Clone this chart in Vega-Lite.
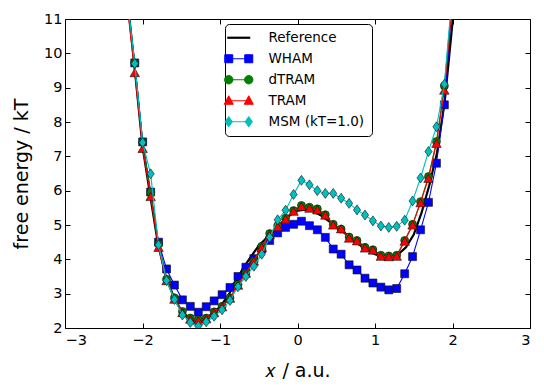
{
"$schema": "https://vega.github.io/schema/vega-lite/v6.json",
"width": 465, "height": 309,
"autosize": "none",
"padding": {"left": 65, "top": 19, "right": 14, "bottom": 62},
"background": "white",
"config": {
 "view": {"stroke": "black", "strokeWidth": 1},
 "axis": {"grid": false, "domain": false, "tickColor": "black", "tickSize": -5, "tickWidth": 1, "labelColor": "black", "labelFont": "DejaVu Sans", "labelFontSize": 14.5, "titleFont": "DejaVu Sans", "titleFontSize": 19, "titleFontWeight": "normal", "titleColor": "black"}
},
"datasets": {
 "ref": [
  {"s":"Reference","x":-2.2,"y":11.7},{"s":"Reference","x":-2.1,"y":9.55},{"s":"Reference","x":-2.0,"y":7.3},{"s":"Reference","x":-1.9,"y":5.85},{"s":"Reference","x":-1.8,"y":4.45},{"s":"Reference","x":-1.7,"y":3.5},{"s":"Reference","x":-1.6,"y":2.92},{"s":"Reference","x":-1.5,"y":2.5},{"s":"Reference","x":-1.4,"y":2.28},{"s":"Reference","x":-1.3,"y":2.2},{"s":"Reference","x":-1.2,"y":2.25},{"s":"Reference","x":-1.1,"y":2.42},{"s":"Reference","x":-1.0,"y":2.62},{"s":"Reference","x":-0.9,"y":2.92},{"s":"Reference","x":-0.8,"y":3.33},{"s":"Reference","x":-0.7,"y":3.75},{"s":"Reference","x":-0.6,"y":4.08},{"s":"Reference","x":-0.5,"y":4.4},{"s":"Reference","x":-0.4,"y":4.62},{"s":"Reference","x":-0.3,"y":4.82},{"s":"Reference","x":-0.2,"y":5.05},{"s":"Reference","x":-0.1,"y":5.28},{"s":"Reference","x":0.0,"y":5.42},{"s":"Reference","x":0.1,"y":5.45},{"s":"Reference","x":0.2,"y":5.4},{"s":"Reference","x":0.3,"y":5.28},{"s":"Reference","x":0.4,"y":5.12},{"s":"Reference","x":0.5,"y":4.95},{"s":"Reference","x":0.6,"y":4.78},{"s":"Reference","x":0.7,"y":4.6},{"s":"Reference","x":0.8,"y":4.42},{"s":"Reference","x":0.9,"y":4.27},{"s":"Reference","x":1.0,"y":4.15},{"s":"Reference","x":1.1,"y":4.08},{"s":"Reference","x":1.2,"y":4.07},{"s":"Reference","x":1.3,"y":4.15},{"s":"Reference","x":1.4,"y":4.35},{"s":"Reference","x":1.5,"y":4.72},{"s":"Reference","x":1.6,"y":5.35},{"s":"Reference","x":1.7,"y":6.15},{"s":"Reference","x":1.8,"y":7.1},{"s":"Reference","x":1.9,"y":8.6},{"s":"Reference","x":2.0,"y":10.9},{"s":"Reference","x":2.1,"y":13.5}
 ],
 "est": [
  {"s":"WHAM","x":-2.202,"y":11.6},{"s":"WHAM","x":-2.1,"y":9.72},{"s":"WHAM","x":-1.998,"y":7.42},{"s":"WHAM","x":-1.895,"y":5.96},{"s":"WHAM","x":-1.793,"y":4.5},{"s":"WHAM","x":-1.69,"y":3.72},{"s":"WHAM","x":-1.588,"y":3.25},{"s":"WHAM","x":-1.485,"y":2.82},{"s":"WHAM","x":-1.383,"y":2.63},{"s":"WHAM","x":-1.28,"y":2.46},{"s":"WHAM","x":-1.178,"y":2.62},{"s":"WHAM","x":-1.076,"y":2.79},{"s":"WHAM","x":-0.973,"y":2.97},{"s":"WHAM","x":-0.871,"y":3.18},{"s":"WHAM","x":-0.768,"y":3.5},{"s":"WHAM","x":-0.666,"y":3.77},{"s":"WHAM","x":-0.563,"y":4.02},{"s":"WHAM","x":-0.461,"y":4.3},{"s":"WHAM","x":-0.359,"y":4.55},{"s":"WHAM","x":-0.256,"y":4.77},{"s":"WHAM","x":-0.154,"y":4.93},{"s":"WHAM","x":-0.051,"y":5.02},{"s":"WHAM","x":0.051,"y":5.11},{"s":"WHAM","x":0.154,"y":4.98},{"s":"WHAM","x":0.256,"y":4.86},{"s":"WHAM","x":0.359,"y":4.64},{"s":"WHAM","x":0.461,"y":4.3},{"s":"WHAM","x":0.563,"y":4.15},{"s":"WHAM","x":0.666,"y":3.84},{"s":"WHAM","x":0.768,"y":3.69},{"s":"WHAM","x":0.871,"y":3.45},{"s":"WHAM","x":0.973,"y":3.31},{"s":"WHAM","x":1.076,"y":3.19},{"s":"WHAM","x":1.178,"y":3.11},{"s":"WHAM","x":1.28,"y":3.15},{"s":"WHAM","x":1.383,"y":3.58},{"s":"WHAM","x":1.485,"y":4.08},{"s":"WHAM","x":1.588,"y":4.86},{"s":"WHAM","x":1.69,"y":5.66},{"s":"WHAM","x":1.793,"y":6.8},{"s":"WHAM","x":1.895,"y":8.5},{"s":"WHAM","x":1.998,"y":11.5},
  {"s":"dTRAM","x":-2.202,"y":11.7},{"s":"dTRAM","x":-2.1,"y":9.72},{"s":"dTRAM","x":-1.998,"y":7.41},{"s":"dTRAM","x":-1.895,"y":5.95},{"s":"dTRAM","x":-1.793,"y":4.45},{"s":"dTRAM","x":-1.69,"y":3.42},{"s":"dTRAM","x":-1.588,"y":2.88},{"s":"dTRAM","x":-1.485,"y":2.48},{"s":"dTRAM","x":-1.383,"y":2.29},{"s":"dTRAM","x":-1.28,"y":2.24},{"s":"dTRAM","x":-1.178,"y":2.29},{"s":"dTRAM","x":-1.076,"y":2.47},{"s":"dTRAM","x":-0.973,"y":2.63},{"s":"dTRAM","x":-0.871,"y":2.88},{"s":"dTRAM","x":-0.768,"y":3.27},{"s":"dTRAM","x":-0.666,"y":3.6},{"s":"dTRAM","x":-0.563,"y":3.95},{"s":"dTRAM","x":-0.461,"y":4.38},{"s":"dTRAM","x":-0.359,"y":4.75},{"s":"dTRAM","x":-0.256,"y":4.98},{"s":"dTRAM","x":-0.154,"y":5.2},{"s":"dTRAM","x":-0.051,"y":5.42},{"s":"dTRAM","x":0.051,"y":5.57},{"s":"dTRAM","x":0.154,"y":5.52},{"s":"dTRAM","x":0.256,"y":5.47},{"s":"dTRAM","x":0.359,"y":5.3},{"s":"dTRAM","x":0.461,"y":5.02},{"s":"dTRAM","x":0.563,"y":4.88},{"s":"dTRAM","x":0.666,"y":4.65},{"s":"dTRAM","x":0.768,"y":4.55},{"s":"dTRAM","x":0.871,"y":4.35},{"s":"dTRAM","x":0.973,"y":4.28},{"s":"dTRAM","x":1.076,"y":4.12},{"s":"dTRAM","x":1.178,"y":4.1},{"s":"dTRAM","x":1.28,"y":4.12},{"s":"dTRAM","x":1.383,"y":4.55},{"s":"dTRAM","x":1.485,"y":5.02},{"s":"dTRAM","x":1.588,"y":5.68},{"s":"dTRAM","x":1.69,"y":6.41},{"s":"dTRAM","x":1.793,"y":7.43},{"s":"dTRAM","x":1.895,"y":9.05},{"s":"dTRAM","x":1.998,"y":11.6},
  {"s":"TRAM","x":-2.202,"y":11.5},{"s":"TRAM","x":-2.1,"y":9.44},{"s":"TRAM","x":-1.998,"y":7.23},{"s":"TRAM","x":-1.895,"y":5.83},{"s":"TRAM","x":-1.793,"y":4.35},{"s":"TRAM","x":-1.69,"y":3.38},{"s":"TRAM","x":-1.588,"y":2.84},{"s":"TRAM","x":-1.485,"y":2.45},{"s":"TRAM","x":-1.383,"y":2.26},{"s":"TRAM","x":-1.28,"y":2.21},{"s":"TRAM","x":-1.178,"y":2.27},{"s":"TRAM","x":-1.076,"y":2.45},{"s":"TRAM","x":-0.973,"y":2.62},{"s":"TRAM","x":-0.871,"y":2.87},{"s":"TRAM","x":-0.768,"y":3.25},{"s":"TRAM","x":-0.666,"y":3.6},{"s":"TRAM","x":-0.563,"y":3.95},{"s":"TRAM","x":-0.461,"y":4.35},{"s":"TRAM","x":-0.359,"y":4.72},{"s":"TRAM","x":-0.256,"y":4.95},{"s":"TRAM","x":-0.154,"y":5.17},{"s":"TRAM","x":-0.051,"y":5.4},{"s":"TRAM","x":0.051,"y":5.54},{"s":"TRAM","x":0.154,"y":5.49},{"s":"TRAM","x":0.256,"y":5.44},{"s":"TRAM","x":0.359,"y":5.29},{"s":"TRAM","x":0.461,"y":5.0},{"s":"TRAM","x":0.563,"y":4.89},{"s":"TRAM","x":0.666,"y":4.62},{"s":"TRAM","x":0.768,"y":4.54},{"s":"TRAM","x":0.871,"y":4.33},{"s":"TRAM","x":0.973,"y":4.27},{"s":"TRAM","x":1.076,"y":4.09},{"s":"TRAM","x":1.178,"y":4.08},{"s":"TRAM","x":1.28,"y":4.09},{"s":"TRAM","x":1.383,"y":4.53},{"s":"TRAM","x":1.485,"y":5.0},{"s":"TRAM","x":1.588,"y":5.65},{"s":"TRAM","x":1.69,"y":6.36},{"s":"TRAM","x":1.793,"y":7.38},{"s":"TRAM","x":1.895,"y":8.93},{"s":"TRAM","x":1.998,"y":11.5},
  {"s":"MSM (kT=1.0)","x":-2.202,"y":11.7},{"s":"MSM (kT=1.0)","x":-2.1,"y":9.7},{"s":"MSM (kT=1.0)","x":-1.998,"y":7.4},{"s":"MSM (kT=1.0)","x":-1.895,"y":6.49},{"s":"MSM (kT=1.0)","x":-1.793,"y":4.42},{"s":"MSM (kT=1.0)","x":-1.69,"y":3.38},{"s":"MSM (kT=1.0)","x":-1.588,"y":2.83},{"s":"MSM (kT=1.0)","x":-1.485,"y":2.38},{"s":"MSM (kT=1.0)","x":-1.383,"y":2.16},{"s":"MSM (kT=1.0)","x":-1.28,"y":2.06},{"s":"MSM (kT=1.0)","x":-1.178,"y":2.18},{"s":"MSM (kT=1.0)","x":-1.076,"y":2.34},{"s":"MSM (kT=1.0)","x":-0.973,"y":2.53},{"s":"MSM (kT=1.0)","x":-0.871,"y":2.8},{"s":"MSM (kT=1.0)","x":-0.768,"y":3.2},{"s":"MSM (kT=1.0)","x":-0.666,"y":3.5},{"s":"MSM (kT=1.0)","x":-0.563,"y":3.8},{"s":"MSM (kT=1.0)","x":-0.461,"y":4.15},{"s":"MSM (kT=1.0)","x":-0.359,"y":4.64},{"s":"MSM (kT=1.0)","x":-0.256,"y":5.15},{"s":"MSM (kT=1.0)","x":-0.154,"y":5.43},{"s":"MSM (kT=1.0)","x":-0.051,"y":5.89},{"s":"MSM (kT=1.0)","x":0.051,"y":6.3},{"s":"MSM (kT=1.0)","x":0.154,"y":6.17},{"s":"MSM (kT=1.0)","x":0.256,"y":6.0},{"s":"MSM (kT=1.0)","x":0.359,"y":5.92},{"s":"MSM (kT=1.0)","x":0.461,"y":5.92},{"s":"MSM (kT=1.0)","x":0.563,"y":5.78},{"s":"MSM (kT=1.0)","x":0.666,"y":5.63},{"s":"MSM (kT=1.0)","x":0.768,"y":5.44},{"s":"MSM (kT=1.0)","x":0.871,"y":5.29},{"s":"MSM (kT=1.0)","x":0.973,"y":5.12},{"s":"MSM (kT=1.0)","x":1.076,"y":4.97},{"s":"MSM (kT=1.0)","x":1.178,"y":4.93},{"s":"MSM (kT=1.0)","x":1.28,"y":4.96},{"s":"MSM (kT=1.0)","x":1.383,"y":5.14},{"s":"MSM (kT=1.0)","x":1.485,"y":5.7},{"s":"MSM (kT=1.0)","x":1.588,"y":6.37},{"s":"MSM (kT=1.0)","x":1.69,"y":7.14},{"s":"MSM (kT=1.0)","x":1.793,"y":7.86},{"s":"MSM (kT=1.0)","x":1.895,"y":9.1},{"s":"MSM (kT=1.0)","x":1.998,"y":11.8}
 ]
},
"layer": [
 {"data": {"name": "ref"},
  "mark": {"type": "line", "strokeWidth": 2.2, "clip": true},
  "encoding": {
   "x": {"field": "x", "type": "quantitative", "scale": {"domain": [-3, 3], "nice": false, "zero": false}, "axis": {"orient": "bottom", "values": [-3,-2,-1,0,1,2,3], "title": "𝑥 / a.u.", "labelPadding": 10, "titlePadding": 15}},
   "y": {"field": "y", "type": "quantitative", "scale": {"domain": [2, 11], "nice": false, "zero": false}, "axis": {"orient": "left", "values": [2,3,4,5,6,7,8,9,10,11], "title": "free energy / kT", "labelPadding": 8, "titlePadding": 12}},
   "color": {"field": "s", "type": "nominal",
     "scale": {"domain": ["Reference", "WHAM", "dTRAM", "TRAM", "MSM (kT=1.0)"], "range": ["#000000", "#0000ff", "#008000", "#ff0000", "#00bfbf"]},
     "legend": {"orient": "none", "legendX": 160, "legendY": 5, "title": null, "padding": 7, "strokeColor": "black", "fillColor": "white", "cornerRadius": 4,
       "labelFont": "DejaVu Sans", "labelFontSize": 13.5, "labelColor": "black", "symbolSize": 400, "labelOffset": 23, "rowPadding": 6,
       "encode": {"symbols": {"update": {
         "shape": {"signal": "datum.value === 'WHAM' ? 'M-1.15,0H1.15M-1.4,-0.4H-0.6V0.4H-1.4ZM0.6,-0.4H1.4V0.4H0.6Z' : datum.value === 'dTRAM' ? 'M-1.15,0H1.15M-0.58,0A0.42,0.42,0,1,1,-1.42,0A0.42,0.42,0,1,1,-0.58,0ZM1.42,0A0.42,0.42,0,1,1,0.58,0A0.42,0.42,0,1,1,1.42,0Z' : datum.value === 'TRAM' ? 'M-1.15,0H1.15M-1,-0.5L-0.55,0.35H-1.45ZM1,-0.5L1.45,0.35H0.55Z' : datum.value === 'Reference' ? 'M-1.15,0H1.15' : 'M-1.15,0H1.15M-1,-0.52L-0.64,0L-1,0.52L-1.36,0ZM1,-0.52L1.36,0L1,0.52L0.64,0Z'"},
         "fill": {"signal": "scale('color', datum.value)"},
         "stroke": {"signal": "scale('color', datum.value)"},
         "strokeWidth": {"signal": "datum.value === 'Reference' ? 2.2 : 1"},
         "opacity": {"value": 1}
       }}}
     }}
  }},
 {"data": {"name": "est"}, "transform": [{"filter": "datum.s === 'WHAM'"}],
  "mark": {"type": "line", "strokeWidth": 1.1, "clip": true},
  "encoding": {
   "x": {"field": "x", "type": "quantitative", "axis": {"orient": "top", "values": [-3,-2,-1,0,1,2,3], "labels": false, "title": null}},
   "y": {"field": "y", "type": "quantitative", "axis": {"orient": "right", "values": [2,3,4,5,6,7,8,9,10,11], "labels": false, "title": null}},
   "color": {"field": "s", "type": "nominal"}}},
 {"data": {"name": "est"}, "transform": [{"filter": "datum.s === 'WHAM'"}],
  "mark": {"type": "point", "shape": "square", "filled": true, "size": 64, "stroke": "#111111", "strokeWidth": 0.6, "opacity": 1, "clip": true},
  "encoding": {"x": {"field": "x", "type": "quantitative", "axis": null}, "y": {"field": "y", "type": "quantitative", "axis": null}, "color": {"field": "s", "type": "nominal"}}},
 {"data": {"name": "est"}, "transform": [{"filter": "datum.s === 'dTRAM'"}],
  "mark": {"type": "line", "strokeWidth": 1.1, "clip": true},
  "encoding": {"x": {"field": "x", "type": "quantitative", "axis": null}, "y": {"field": "y", "type": "quantitative", "axis": null}, "color": {"field": "s", "type": "nominal"}}},
 {"data": {"name": "est"}, "transform": [{"filter": "datum.s === 'dTRAM'"}],
  "mark": {"type": "point", "shape": "circle", "filled": true, "size": 64, "stroke": "#111111", "strokeWidth": 0.6, "opacity": 1, "clip": true},
  "encoding": {"x": {"field": "x", "type": "quantitative", "axis": null}, "y": {"field": "y", "type": "quantitative", "axis": null}, "color": {"field": "s", "type": "nominal"}}},
 {"data": {"name": "est"}, "transform": [{"filter": "datum.s === 'TRAM'"}],
  "mark": {"type": "line", "strokeWidth": 1.1, "clip": true},
  "encoding": {"x": {"field": "x", "type": "quantitative", "axis": null}, "y": {"field": "y", "type": "quantitative", "axis": null}, "color": {"field": "s", "type": "nominal"}}},
 {"data": {"name": "est"}, "transform": [{"filter": "datum.s === 'TRAM'"}],
  "mark": {"type": "point", "shape": "triangle-up", "filled": true, "size": 90, "stroke": "#111111", "strokeWidth": 0.6, "opacity": 1, "clip": true},
  "encoding": {"x": {"field": "x", "type": "quantitative", "axis": null}, "y": {"field": "y", "type": "quantitative", "axis": null}, "color": {"field": "s", "type": "nominal"}}},
 {"data": {"name": "est"}, "transform": [{"filter": "datum.s === 'MSM (kT=1.0)'"}],
  "mark": {"type": "line", "strokeWidth": 1.1, "clip": true},
  "encoding": {"x": {"field": "x", "type": "quantitative", "axis": null}, "y": {"field": "y", "type": "quantitative", "axis": null}, "color": {"field": "s", "type": "nominal"}}},
 {"data": {"name": "est"}, "transform": [{"filter": "datum.s === 'MSM (kT=1.0)'"}],
  "mark": {"type": "point", "shape": "M0,-1L0.72,0L0,1L-0.72,0Z", "filled": true, "size": 100, "stroke": "#111111", "strokeWidth": 0.6, "opacity": 1, "clip": true},
  "encoding": {"x": {"field": "x", "type": "quantitative", "axis": null}, "y": {"field": "y", "type": "quantitative", "axis": null}, "color": {"field": "s", "type": "nominal"}}}
],
"resolve": {"axis": {"x": "independent", "y": "independent"}}
}
